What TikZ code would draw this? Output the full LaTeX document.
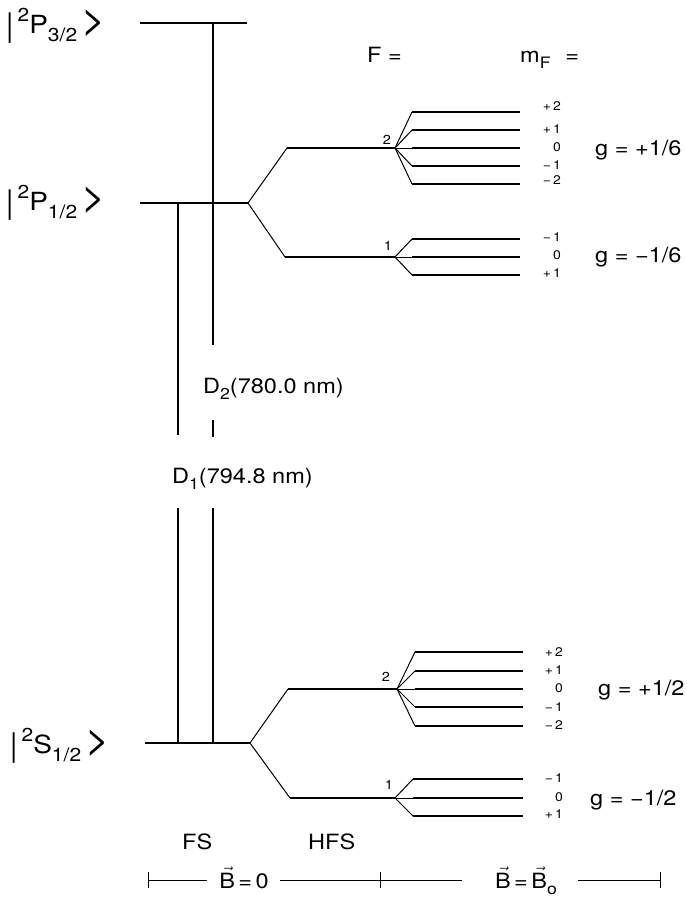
\documentclass[tikz,border=0pt]{standalone}
\usepackage{fontspec}
\setmainfont{TeX Gyre Heros}[FakeStretch=1.12]
\usepackage{graphicx}
\newcommand\mysub[1]{\raisebox{-0.32em}{\scalebox{0.75}{#1}}}
\newcommand\mysup[1]{\raisebox{0.45em}{\scalebox{0.75}{#1}}}
\newcommand\vB{\ensuremath{\vec{\mbox{B}}}}
\newcommand\kbar{\raisebox{-0.12em}{\scalebox{1}[1.3]{|}}}
\newcommand\kket{\scalebox{1.5}[1.65]{>}}
\begin{document}
\begin{tikzpicture}[x=1pt,y=-1pt,
  lvl/.style={line width=1.4pt},
  conn/.style={line width=1pt},
  trans/.style={line width=1.3pt},
  tick/.style={line width=1pt},
  big/.style={font=\fontsize{25}{30}\selectfont, inner sep=0pt, anchor=base west},
  mid/.style={font=\fontsize{21}{25}\selectfont, inner sep=0pt},
  fval/.style={font=\fontsize{13}{15}\selectfont, inner sep=0pt},
  mval/.style={font=\fontsize{12.5}{14}\selectfont, inner sep=0pt, anchor=east}]
\useasboundingbox (0,0) rectangle (686,919);
\fill[white] (0,0) rectangle (686,919);

% fine-structure levels
\coordinate (p32a) at (140,23);  \coordinate (p32b) at (247,23);
\coordinate (p12a) at (140,203); \coordinate (p12b) at (248,203);
\coordinate (s12a) at (145,743); \coordinate (s12b) at (250,743);
\draw[lvl] (p32a) -- (p32b);
\draw[lvl] (p12a) -- (p12b);
\draw[lvl] (s12a) -- (s12b);

% level labels
\node[big] (lP32) at (6,33)  {\kbar\,\mysup{2}P\mysub{3/2}\,\kket};
\node[big] (lP12) at (6,210) {\kbar\,\mysup{2}P\mysub{1/2}\,\kket};
\node[big] (lS12) at (10,753) {\kbar\,\mysup{2}S\mysub{1/2}\,\kket};

% hyperfine splitting, excited state
\coordinate (pF2a) at (287,148); \coordinate (pF2b) at (395,148);
\coordinate (pF1a) at (285,257); \coordinate (pF1b) at (395,257);
\draw[conn] (p12b) -- (pF2a); \draw[lvl] (pF2a) -- (pF2b);
\draw[conn] (p12b) -- (pF1a); \draw[lvl] (pF1a) -- (pF1b);
\node[fval] (pF2n) at (387,140) {2};
\node[fval] (pF1n) at (388,246) {1};
\foreach \y [count=\i] in {112,130,148,166,184}{
  \coordinate (pu\i a) at (412,\y); \coordinate (pu\i b) at (520,\y);
  \draw[conn] (pF2b) -- (pu\i a); \draw[lvl] (pu\i a) -- (pu\i b);}
\foreach \y [count=\i] in {239,257,275}{
  \coordinate (pl\i a) at (412,\y); \coordinate (pl\i b) at (520,\y);
  \draw[conn] (pF1b) -- (pl\i a); \draw[lvl] (pl\i a) -- (pl\i b);}
\foreach \t/\y [count=\i] in {+\,2/106,+\,1/129,0/147,−\,1/165,−\,2/180}
  \node[mval] (pum\i) at (561,\y) {\t};
\foreach \t/\y [count=\i] in {−\,1/237,0/255,+\,1/273}
  \node[mval] (plm\i) at (561,\y) {\t};

% hyperfine splitting, ground state
\coordinate (sF2a) at (288,689); \coordinate (sF2b) at (397,689);
\coordinate (sF1a) at (290,798); \coordinate (sF1b) at (395,798);
\draw[conn] (s12b) -- (sF2a); \draw[lvl] (sF2a) -- (sF2b);
\draw[conn] (s12b) -- (sF1a); \draw[lvl] (sF1a) -- (sF1b);
\node[fval] (sF2n) at (386,677) {2};
\node[fval] (sF1n) at (389,785) {1};
\foreach \y [count=\i] in {652,671,689,707,726}{
  \coordinate (su\i a) at (415,\y); \coordinate (su\i b) at (523,\y);
  \draw[conn] (sF2b) -- (su\i a); \draw[lvl] (su\i a) -- (su\i b);}
\foreach \y [count=\i] in {779,798,816}{
  \coordinate (sl\i a) at (413,\y); \coordinate (sl\i b) at (523,\y);
  \draw[conn] (sF1b) -- (sl\i a); \draw[lvl] (sl\i a) -- (sl\i b);}
\foreach \t/\y [count=\i] in {+\,2/652,+\,1/670,0/688,−\,1/707,−\,2/725}
  \node[mval] (sum\i) at (563,\y) {\t};
\foreach \t/\y [count=\i] in {−\,1/778,0/797,+\,1/814}
  \node[mval] (slm\i) at (563,\y) {\t};

% g factors
\node[mid, anchor=base west] (g1) at (595,155) {g = +1/6};
\node[mid, anchor=base west] (g2) at (595,262) {g = −1/6};
\node[mid, anchor=base west] (g3) at (598,695) {g = +1/2};
\node[mid, anchor=base west] (g4) at (590,805) {g = −1/2};

% header
\node[mid, anchor=base west] (Fh) at (367,62) {F =};
\node[mid, anchor=base west] (mFh) at (520,62) {m\mysub{F}\hspace{0.7em}=};

% optical transitions
\coordinate (d1t) at (178,203); \coordinate (d1u) at (178,435);
\coordinate (d1v) at (178,508); \coordinate (d1b) at (178,743);
\coordinate (d2t) at (213,23);  \coordinate (d2u) at (213,345);
\coordinate (d2v) at (213,420); \coordinate (d2w) at (213,437);
\coordinate (d2x) at (213,508); \coordinate (d2b) at (213,743);
\draw[trans] (d1t) -- (d1u); \draw[trans] (d1v) -- (d1b);
\draw[trans] (d2t) -- (d2u); \draw[trans] (d2v) -- (d2w); \draw[trans] (d2x) -- (d2b);
\node[mid, anchor=base west] (d2lab) at (203,393) {D\mysub{2}(780.0 nm)};
\node[mid, anchor=base west] (d1lab) at (172,483) {D\mysub{1}(794.8 nm)};

% bottom labels
\node[mid, anchor=base west] (fs) at (182,849) {FS};
\node[mid, anchor=base west] (hfs) at (308,849) {HFS};

% field axis
\coordinate (ax0) at (148,880); \coordinate (ax1) at (207,880);
\coordinate (ax2) at (280,880); \coordinate (axm) at (380,880);
\coordinate (ax3) at (462,880); \coordinate (ax4) at (578,880);
\coordinate (ax5) at (660,880);
\node[mid, anchor=base] (b0) at (244,888) {\vB\,=\,0};
\node[mid, anchor=base] (bb) at (526,888) {\vB\,=\,\vB\mysub{o}};
\draw[tick] (ax0) -- (ax1); \draw[tick] (ax2) -- (ax3); \draw[tick] (ax4) -- (ax5);
\draw[tick] ([yshift=-8pt]ax0) -- ([yshift=8pt]ax0);
\draw[tick] ([yshift=-8pt]axm) -- ([yshift=8pt]axm);
\draw[tick] ([yshift=-8pt]ax5) -- ([yshift=8pt]ax5);
\end{tikzpicture}
\end{document}
